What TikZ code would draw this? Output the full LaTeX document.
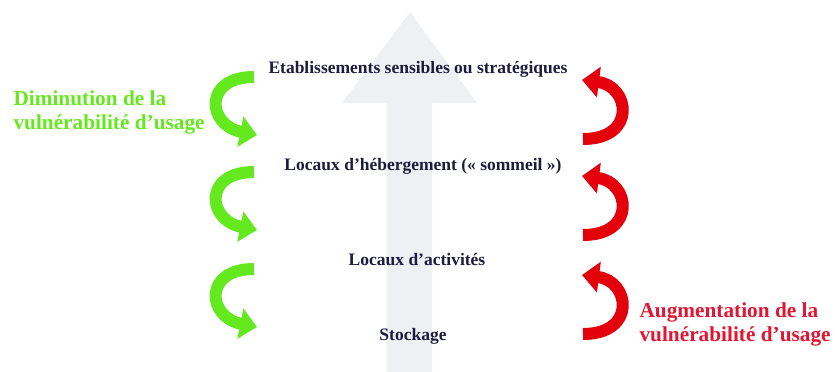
\documentclass[tikz,border=0pt]{standalone}
\usepackage{fontspec}
\setmainfont{Liberation Serif}
\usetikzlibrary{arrows.meta}
\definecolor{levelblue}{RGB}{28,28,60}
\definecolor{shaftgrey}{RGB}{238,240,243}
\definecolor{diminue}{RGB}{100,232,30}
\definecolor{augmente}{RGB}{228,0,10}
\definecolor{augtext}{RGB}{226,22,50}

\begin{document}
\begin{tikzpicture}[
    x=1pt, y=1pt,
    level/.style={font=\bfseries\fontsize{17.5}{20}\selectfont, text=levelblue},
    legend/.style={font=\bfseries\fontsize{21.3}{24}\selectfont, align=left, anchor=west},
    garrow/.style={draw=diminue, line width=12pt, -{Triangle[length=17pt, width=30pt]}},
    rarrow/.style={draw=augmente, line width=12pt, -{Triangle[length=17pt, width=30pt]}}
]
    \useasboundingbox (0,0) rectangle (835,-372);

    % grande fleche de fond
    \fill[shaftgrey] (387,-372) -- (387,-103) -- (342,-103) -- (410,-12)
        -- (477,-103) -- (432,-103) -- (432,-372) -- cycle;

    % niveaux
    \node[level] (etab) at (418,-69) {Etablissements sensibles ou stratégiques};
    \node[level] (heberg) at (423,-166) {Locaux d’hébergement (« sommeil »)};
    \node[level] (activ) at (417,-260) {Locaux d’activités};
    \node[level] (stock) at (413,-336) {Stockage};

    % legendes
    \node[legend, text=diminue] (dimin) at (10,-112) {Diminution de la\\vulnérabilité d’usage};
    \node[legend, text=augtext] (augm) at (636,-324) {Augmentation de la\\vulnérabilité d’usage};

    % fleches courbes
    \foreach \dy in {0,95,192}
        \draw[garrow] (254,-77-\dy) .. controls (203,-77-\dy) and (207,-125-\dy) .. (257,-135-\dy);
    \foreach \dy in {0,96,195}
        \draw[rarrow] (583,-139-\dy) .. controls (637,-139-\dy) and (630,-86-\dy) .. (582,-80-\dy);
\end{tikzpicture}
\end{document}
